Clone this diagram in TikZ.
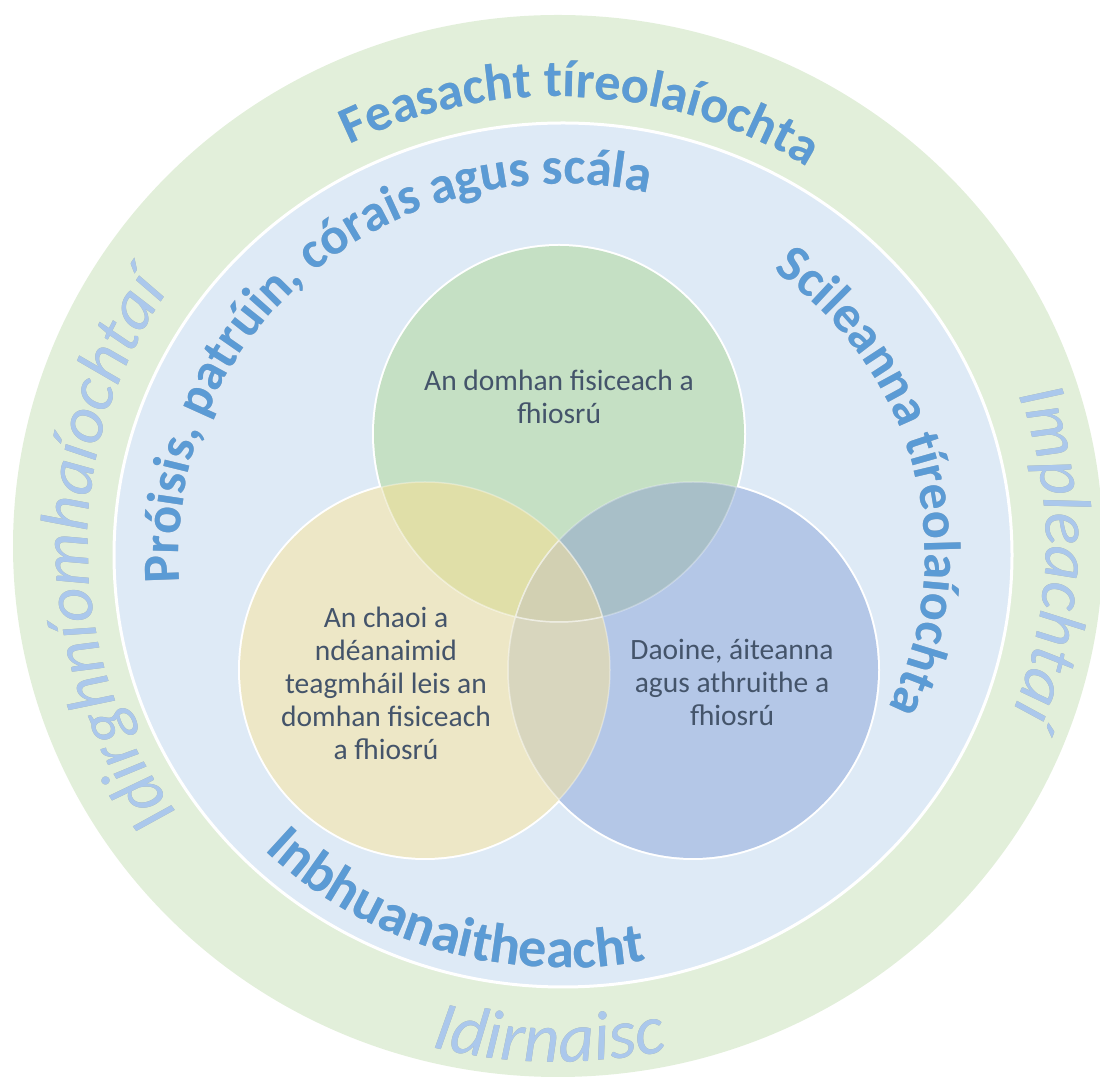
\documentclass[tikz,border=0pt]{standalone}
\usepackage{fontspec}
\setmainfont{Carlito}
\usetikzlibrary{decorations.text}
\definecolor{ringgreen}{HTML}{E2EFDA}
\definecolor{ringblue}{HTML}{DEEAF6}
\definecolor{cgreen}{HTML}{C5E0C4}
\definecolor{cyellow}{HTML}{EDE7C6}
\definecolor{cblue}{HTML}{B4C7E7}
\definecolor{gy}{HTML}{E0DFA8}
\definecolor{gb}{HTML}{A8BFC8}
\definecolor{yb}{HTML}{D8D6BE}
\definecolor{gyb}{HTML}{D2D0B2}
\definecolor{txtblue}{HTML}{5B9BD5}
\definecolor{txtlight}{HTML}{ABC8EC}
\definecolor{venntxt}{HTML}{44546A}
\newcommand\gcirc{(559,647) ellipse [x radius=185, y radius=188]}
\newcommand\ycirc{(425,411) ellipse [x radius=185, y radius=188]}
\newcommand\bcirc{(693,411) ellipse [x radius=185, y radius=188]}
\newcommand\bigfont{\fontsize{52}{60}\selectfont\bfseries}
\newcommand\botfont{\fontsize{56}{62}\selectfont\bfseries}
\newcommand\topfont{\fontsize{52}{58}\selectfont\bfseries}
\newcommand\outfont{\fontsize{68}{74}\selectfont\itshape}
\newcommand\outbfont{\fontsize{70}{76}\selectfont\itshape}
\tikzset{
  venn/.style={text=venntxt, align=center, font=\fontsize{29.5}{33}\selectfont},
  shadowtxt/.style={shift={(2.5,-2.5)}, opacity=0.28}
}
\begin{document}
\begin{tikzpicture}[x=1pt,y=1pt]
\useasboundingbox (0,0) rectangle (1100,1081);
\coordinate (cg) at (558,535);
\coordinate (cb) at (563,526);
% rings
\fill[ringgreen] (cg) ellipse [x radius=545, y radius=531];
\fill[ringblue, draw=white, line width=3] (cb) ellipse [x radius=449, y radius=432];
% venn outlines (outer half visible)
\draw[white, line width=4] \gcirc \ycirc \bcirc;
\fill[cgreen] \gcirc;
\fill[cblue] \bcirc;
\fill[cyellow] \ycirc;
\begin{scope}\clip \gcirc; \fill[gy] \ycirc; \end{scope}
\begin{scope}\clip \gcirc; \fill[gb] \bcirc; \end{scope}
\begin{scope}\clip \ycirc; \fill[yb] \bcirc; \end{scope}
\begin{scope}\clip \gcirc; \clip \ycirc; \fill[gyb] \bcirc; \end{scope}
% faint interior arcs
\begin{scope}\clip \ycirc; \draw[white, opacity=0.45, line width=1.5] \gcirc \bcirc; \end{scope}
\begin{scope}\clip \gcirc; \draw[white, opacity=0.3, line width=1.5] \ycirc \bcirc; \end{scope}
\begin{scope}\clip \bcirc; \draw[white, opacity=0.3, line width=1.5] \ycirc \gcirc; \end{scope}
% venn texts
\node[venn] (tg) at (559,684) {An domhan fisiceach a\\fhiosrú};
\node[venn] (ty) at (386,398) {An chaoi a\\ndéanaimid\\teagmháil leis an\\domhan fisiceach\\a fhiosrú};
\node[venn] (tb) at (732,399) {Daoine, áiteanna\\agus athruithe a\\fhiosrú};
% ===== curved texts: shadows =====
\begin{scope}[shadowtxt]
\path[decorate, decoration={text along path, text align=center, text color=black,
  text={|\topfont|Feasacht tíreolaíochta}}]
  (cg) ++(167:465 and 449) arc[start angle=167, end angle=7, x radius=465, y radius=449];
\path[decorate, decoration={text along path, text align=center, text color=black,
  text={|\bigfont|Próisis, patrúin, córais agus scála}}]
  (cb) ++(221:384 and 371) arc[start angle=221, end angle=41, x radius=384, y radius=371];
\path[decorate, decoration={text along path, text align=center, text color=black,
  text={|\bigfont|Scileanna tíreolaíochta}}]
  (cb) ++(104:362 and 349) arc[start angle=104, end angle=-76, x radius=362, y radius=349];
\path[decorate, decoration={text along path, text align=center, text color=black,
  text={|\botfont|Inbhuanaitheacht}}]
  (cb) ++(163:427 and 413) arc[start angle=163, end angle=343, x radius=427, y radius=413];
\path[decorate, decoration={text along path, text align=center, text color=black,
  text={|\outfont|Idirghníomhaíochtaí}}]
  (cg) ++(271:470 and 455) arc[start angle=271, end angle=91, x radius=470, y radius=455];
\path[decorate, decoration={text along path, text align=center, text color=black,
  text={|\outfont|Impleachtaí}}]
  (cg) ++(89:488 and 458) arc[start angle=89, end angle=-91, x radius=488, y radius=458];
\path[decorate, decoration={text along path, text align=center, text color=black,
  text={|\outbfont|Idirnaisc}}]
  (cg) ++(179:530 and 516) arc[start angle=179, end angle=359, x radius=530, y radius=516];
\end{scope}
% ===== curved texts =====
\path[decorate, decoration={text along path, text align=center, text color=txtblue,
  text={|\topfont|Feasacht tíreolaíochta}}]
  (cg) ++(167:465 and 449) arc[start angle=167, end angle=7, x radius=465, y radius=449];
\path[decorate, decoration={text along path, text align=center, text color=txtblue,
  text={|\bigfont|Próisis, patrúin, córais agus scála}}]
  (cb) ++(221:384 and 371) arc[start angle=221, end angle=41, x radius=384, y radius=371];
\path[decorate, decoration={text along path, text align=center, text color=txtblue,
  text={|\bigfont|Scileanna tíreolaíochta}}]
  (cb) ++(104:362 and 349) arc[start angle=104, end angle=-76, x radius=362, y radius=349];
\path[decorate, decoration={text along path, text align=center, text color=txtblue,
  text={|\botfont|Inbhuanaitheacht}}]
  (cb) ++(163:427 and 413) arc[start angle=163, end angle=343, x radius=427, y radius=413];
\path[decorate, decoration={text along path, text align=center, text color=txtlight,
  text={|\outfont|Idirghníomhaíochtaí}}]
  (cg) ++(271:470 and 455) arc[start angle=271, end angle=91, x radius=470, y radius=455];
\path[decorate, decoration={text along path, text align=center, text color=txtlight,
  text={|\outfont|Impleachtaí}}]
  (cg) ++(89:488 and 458) arc[start angle=89, end angle=-91, x radius=488, y radius=458];
\path[decorate, decoration={text along path, text align=center, text color=txtlight,
  text={|\outbfont|Idirnaisc}}]
  (cg) ++(179:530 and 516) arc[start angle=179, end angle=359, x radius=530, y radius=516];
\end{tikzpicture}
\end{document}
